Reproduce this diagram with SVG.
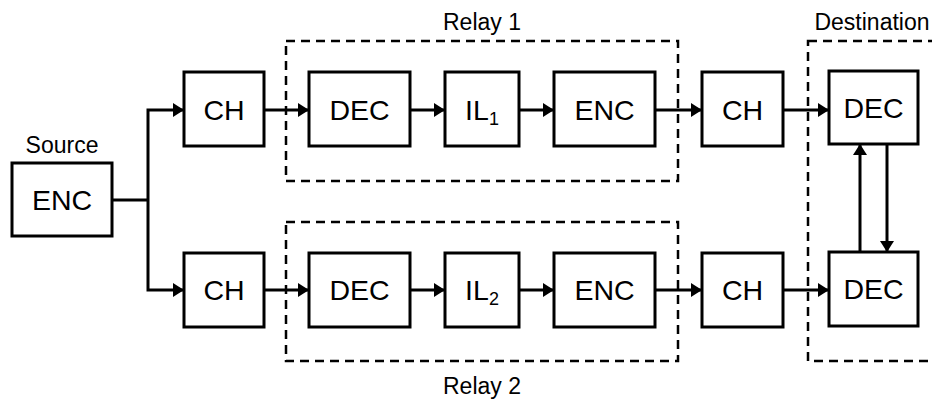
<svg xmlns="http://www.w3.org/2000/svg" width="932" height="400" viewBox="0 0 932 400">
  <defs>
    <marker id="arrow" viewBox="0 0 11 14" refX="11" refY="7" markerWidth="11" markerHeight="14" markerUnits="userSpaceOnUse" orient="auto">
      <path d="M0,0 L11,7 L0,14 Z" fill="#000"/>
    </marker>
  </defs>
  <style>
    .box { fill: #fff; stroke: #000; stroke-width: 3; }
    .group { fill: none; stroke: #000; stroke-width: 2.5; stroke-dasharray: 9 6; }
    .wire { fill: none; stroke: #000; stroke-width: 3; }
    .arr { marker-end: url(#arrow); }
    .lbl { font-family: "Liberation Sans", Arial, sans-serif; font-size: 28.5px; text-anchor: middle; fill: #000; }
    .sub { font-size: 18px; }
    .cap { font-family: "Liberation Sans", Arial, sans-serif; font-size: 23px; text-anchor: middle; fill: #000; }
  </style>

  <rect width="932" height="400" fill="#fff"/>

  <!-- dashed group outlines with their captions -->
  <g id="groups">
    <rect class="group" x="286" y="41" width="392" height="140"/>
    <rect class="group" x="286" y="222" width="392" height="139"/>
    <rect class="group" x="808" y="41" width="140" height="320"/>
    <text class="cap" x="482" y="30">Relay 1</text>
    <text class="cap" x="482" y="394">Relay 2</text>
    <text class="cap" x="872" y="30">Destination</text>
    <text class="cap" x="62" y="153">Source</text>
  </g>

  <!-- connectors -->
  <g id="connectors">
    <polyline class="wire" points="112,200 148,200"/>
    <polyline class="wire arr" points="148,200 148,110 184,110"/>
    <polyline class="wire arr" points="148,200 148,290 184,290"/>
    <line class="wire arr" x1="264" y1="110" x2="309" y2="110"/>
    <line class="wire arr" x1="410" y1="110" x2="445" y2="110"/>
    <line class="wire arr" x1="519" y1="110" x2="554" y2="110"/>
    <line class="wire arr" x1="655" y1="110" x2="702" y2="110"/>
    <line class="wire arr" x1="783" y1="110" x2="829" y2="110"/>
    <line class="wire arr" x1="264" y1="290" x2="309" y2="290"/>
    <line class="wire arr" x1="410" y1="290" x2="445" y2="290"/>
    <line class="wire arr" x1="519" y1="290" x2="554" y2="290"/>
    <line class="wire arr" x1="655" y1="290" x2="702" y2="290"/>
    <line class="wire arr" x1="783" y1="290" x2="829" y2="290"/>
    <line class="wire arr" x1="860" y1="252" x2="860" y2="144"/>
    <line class="wire arr" x1="887" y1="144" x2="887" y2="252"/>
  </g>

  <!-- source -->
  <g id="src-enc">
    <rect class="box" x="12" y="163" width="100" height="73"/>
    <text class="lbl" x="62" y="210">ENC</text>
  </g>

  <!-- upper branch -->
  <g id="ch1a">
    <rect class="box" x="184" y="72" width="80" height="74"/>
    <text class="lbl" x="224" y="120">CH</text>
  </g>
  <g id="r1-dec">
    <rect class="box" x="309" y="72" width="101" height="74"/>
    <text class="lbl" x="359.5" y="120">DEC</text>
  </g>
  <g id="r1-il">
    <rect class="box" x="445" y="72" width="74" height="74"/>
    <text class="lbl" x="482" y="120"><tspan>IL</tspan><tspan class="sub" dy="5">1</tspan></text>
  </g>
  <g id="r1-enc">
    <rect class="box" x="554" y="72" width="101" height="74"/>
    <text class="lbl" x="604.5" y="120">ENC</text>
  </g>
  <g id="ch1b">
    <rect class="box" x="702" y="72" width="81" height="74"/>
    <text class="lbl" x="742.5" y="120">CH</text>
  </g>
  <g id="dst-dec1">
    <rect class="box" x="829" y="71" width="89" height="73"/>
    <text class="lbl" x="873.5" y="118">DEC</text>
  </g>

  <!-- lower branch -->
  <g id="ch2a">
    <rect class="box" x="184" y="253" width="80" height="74"/>
    <text class="lbl" x="224" y="300">CH</text>
  </g>
  <g id="r2-dec">
    <rect class="box" x="309" y="253" width="101" height="74"/>
    <text class="lbl" x="359.5" y="300">DEC</text>
  </g>
  <g id="r2-il">
    <rect class="box" x="445" y="253" width="74" height="74"/>
    <text class="lbl" x="482" y="300"><tspan>IL</tspan><tspan class="sub" dy="5">2</tspan></text>
  </g>
  <g id="r2-enc">
    <rect class="box" x="554" y="253" width="101" height="74"/>
    <text class="lbl" x="604.5" y="300">ENC</text>
  </g>
  <g id="ch2b">
    <rect class="box" x="702" y="253" width="81" height="74"/>
    <text class="lbl" x="742.5" y="300">CH</text>
  </g>
  <g id="dst-dec2">
    <rect class="box" x="829" y="252" width="89" height="74"/>
    <text class="lbl" x="873.5" y="299">DEC</text>
  </g>
</svg>
